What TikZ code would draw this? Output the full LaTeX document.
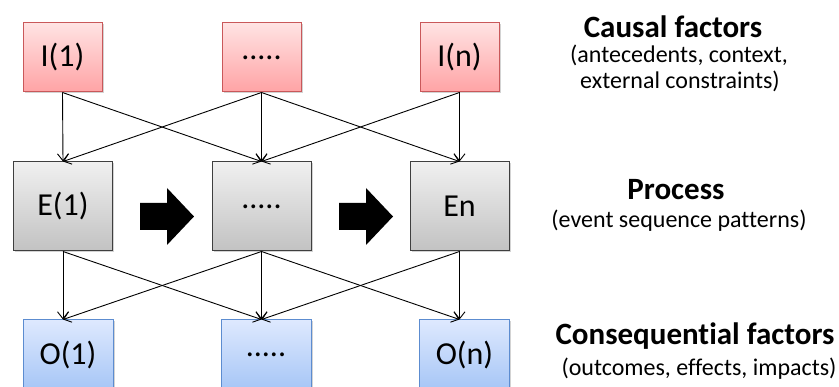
\documentclass[tikz,border=0pt]{standalone}
\usepackage{fontspec}
\setmainfont[Ligatures=NoCommon]{Carlito}
\usetikzlibrary{arrows.meta,shadows}
\definecolor{ibord}{HTML}{C9585A}
\definecolor{itop}{HTML}{FFE3E3}
\definecolor{ibot}{HTML}{FFA3A5}
\definecolor{ebord}{HTML}{3F3F3F}
\definecolor{etop}{HTML}{F0F0F0}
\definecolor{ebot}{HTML}{C2C2C2}
\definecolor{obord}{HTML}{5C8CD0}
\definecolor{otop}{HTML}{DEE9FE}
\definecolor{obot}{HTML}{A6C6F6}
\tikzset{
  boxbase/.style={draw, line width=1pt, inner sep=0pt, font=\fontsize{32}{38}\selectfont,
    drop shadow={opacity=0.35, shadow xshift=1.5pt, shadow yshift=-1.5pt}},
  ibox/.style={boxbase, draw=ibord, top color=itop, bottom color=ibot, minimum width=79pt, minimum height=69pt},
  ebox/.style={boxbase, draw=ebord, top color=etop, bottom color=ebot, minimum width=99pt, minimum height=89pt},
  obox/.style={boxbase, draw=obord, top color=otop, bottom color=obot, minimum width=90pt, minimum height=70pt},
  conn/.style={line width=0.9pt, -{Straight Barb[length=7pt,width=11pt,line width=0.9pt]}},
  bigarrow/.style={fill=black, draw=none},
  ttl/.style={anchor=base, inner sep=0pt, font=\bfseries\fontsize{31}{37}\selectfont},
  sub/.style={anchor=base, inner sep=0pt, font=\fontsize{24}{28}\selectfont},
}
\begin{document}
\begin{tikzpicture}[x=1pt,y=-1pt]
\useasboundingbox (0,0) rectangle (839,387);
% top row
\node[ibox] (I1) at (62.5,57.5) {I(1)};
\node[ibox] (I2) at (261.5,57.5) {.....};
\node[ibox] (I3) at (459.5,57.5) {I(n)};
% middle row
\node[ebox] (E1) at (63,206.5) {E(1)};
\node[ebox] (E2) at (261.5,206.5) {.....};
\node[ebox] (E3) at (459.5,206.5) {En};
% bottom row
\node[obox] (O1) at (68,355) {O(1)};
\node[obox] (O2) at (266,355) {.....};
\node[obox] (O3) at (464.5,355) {O(n)};
% connectors top -> middle
\draw[conn] (I1.south) -- (E1.north);
\draw[conn] (I1.south) -- (E2.north);
\draw[conn] (I2.south) -- (E1.north);
\draw[conn] (I2.south) -- (E2.north);
\draw[conn] (I2.south) -- (E3.north);
\draw[conn] (I3.south) -- (E2.north);
\draw[conn] (I3.south) -- (E3.north);
% connectors middle -> bottom
\draw[conn] (E1.south) -- (O1.north -| E1.south);
\draw[conn] (E1.south) -- (O2.north -| E2.south);
\draw[conn] (E2.south) -- (O1.north -| E1.south);
\draw[conn] (E2.south) -- (O2.north -| E2.south);
\draw[conn] (E2.south) -- (O3.north -| E3.south);
\draw[conn] (E3.south) -- (O2.north -| E2.south);
\draw[conn] (E3.south) -- (O3.north -| E3.south);
% block arrows
\fill[bigarrow] (140,203) -- (167,203) -- (167,188) -- (194,216.5) -- (167,245) -- (167,230) -- (140,230) -- cycle;
\fill[bigarrow] (339,203) -- (366,203) -- (366,188) -- (393,216.5) -- (366,245) -- (366,230) -- (339,230) -- cycle;
% right-hand labels
\node[ttl] (t1) at (673,38) {Causal factors};
\node[sub] (s1a) at (679,63) {(antecedents, context,};
\node[sub] (s1b) at (680,89) {external constraints)};
\node[ttl] (t2) at (676,200) {Process};
\node[sub] (s2) at (679,228) {(event sequence patterns)};
\node[ttl] (t3) at (695,345) {Consequential factors};
\node[sub] (s3) at (699,376) {(outcomes, effects, impacts)};
\end{tikzpicture}
\end{document}
